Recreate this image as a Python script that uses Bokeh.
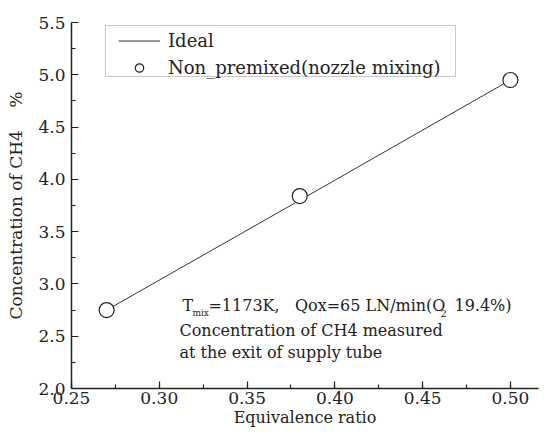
from bokeh.plotting import figure
from bokeh.models import (SingleIntervalTicker, PrintfTickFormatter, Label,
                          Legend, LegendItem, Range1d, BoxAnnotation)
from bokeh.embed import file_html
from bokeh.resources import INLINE

# data
ratio = [0.27, 0.38, 0.50]
ideal = [2.75, 3.80, 4.95]
measured = [2.75, 3.84, 4.95]
series_ideal = "Ideal"
series_meas = "Non_premixed(nozzle mixing)"
x_title = "Equivalence ratio"
y_title = "Concentration of CH4 \u3000%"
note2 = "Concentration of CH4 measured"
note3 = "at the exit of supply tube"

FONT = "DejaVu Serif"
INK = "#222222"

p = figure(width=539, height=432,
           output_backend="svg", toolbar_location=None,
           x_range=Range1d(0.25, 0.516), y_range=Range1d(2.0, 5.5),
           min_border_left=71, min_border_right=1, min_border_top=22,
           min_border_bottom=44)
p.outline_line_color = None
p.grid.visible = False
p.background_fill_color = "white"

line = p.line(ratio, ideal, line_color="#333333", line_width=1)
circ = p.scatter(ratio, measured, marker="circle", size=15, fill_color="white",
                 line_color=INK, line_width=1.2)

p.xaxis.ticker = SingleIntervalTicker(interval=0.05, num_minor_ticks=2)
p.yaxis.ticker = SingleIntervalTicker(interval=0.5, num_minor_ticks=2)
p.xaxis.formatter = PrintfTickFormatter(format="%.2f")
p.yaxis.formatter = PrintfTickFormatter(format="%.1f")

for ax in (p.xaxis, p.yaxis):
    ax.axis_line_color = INK
    ax.axis_line_width = 1.5
    ax.major_tick_line_color = INK
    ax.minor_tick_line_color = INK
    ax.major_tick_line_width = 1.2
    ax.minor_tick_line_width = 1.2
    ax.major_tick_in = 7
    ax.major_tick_out = 0
    ax.minor_tick_in = 4
    ax.minor_tick_out = 0
    ax.major_label_text_font = FONT
    ax.major_label_text_font_size = "17px"
    ax.major_label_text_color = INK
    ax.axis_label_text_font = FONT
    ax.axis_label_text_font_style = "normal"
    ax.axis_label_text_color = INK

p.xaxis.axis_label = x_title
p.yaxis.axis_label = y_title
p.xaxis.axis_label_text_font_size = "16px"
p.yaxis.axis_label_text_font_size = "17px"
p.xaxis.major_label_standoff = 3
p.yaxis.major_label_standoff = 6
p.xaxis.axis_label_standoff = 1
p.yaxis.axis_label_standoff = 9

# legend frame
p.add_layout(BoxAnnotation(left=34, right=384, bottom=312, top=363,
                           left_units="screen", right_units="screen",
                           bottom_units="screen", top_units="screen",
                           fill_color="white", fill_alpha=1,
                           line_color="#444444", line_width=1, level="overlay"))

legend = Legend(items=[LegendItem(label=series_ideal, renderers=[line]),
                       LegendItem(label=series_meas, renderers=[circ])],
                location=(47, 310))
legend.border_line_color = None
legend.background_fill_color = None
legend.padding = 15
legend.spacing = 6
legend.glyph_width = 42
legend.glyph_height = 21
legend.label_height = 21
legend.label_standoff = 8
legend.label_text_font = FONT
legend.label_text_font_size = "18px"
legend.label_text_color = INK
legend.margin = 0
p.add_layout(legend)

# annotation (with subscripts)
ax0, ay1, ay2, ay3 = 0.3132, 2.794, 2.555, 2.344


def lab(x_off, y, text, size="16px", y_off=0):
    p.add_layout(Label(x=ax0, y=y, x_offset=x_off, y_offset=y_off, text=text,
                       text_font=FONT, text_font_size=size,
                       text_baseline="middle", text_align="left",
                       text_color=INK))


lab(0, ay1, "T")
lab(10, ay1, "mix", size="9px", y_off=-8)
lab(26, ay1, "=1173K, \u00a0\u00a0Qox=65 LN/min(O")
lab(258, ay1, "2", size="10px", y_off=-8)
lab(272, ay1, "19.4%)")
lab(-3, ay2, note2)
lab(-3, ay3, note3)

open("out.html", "w").write(file_html(p, INLINE))
